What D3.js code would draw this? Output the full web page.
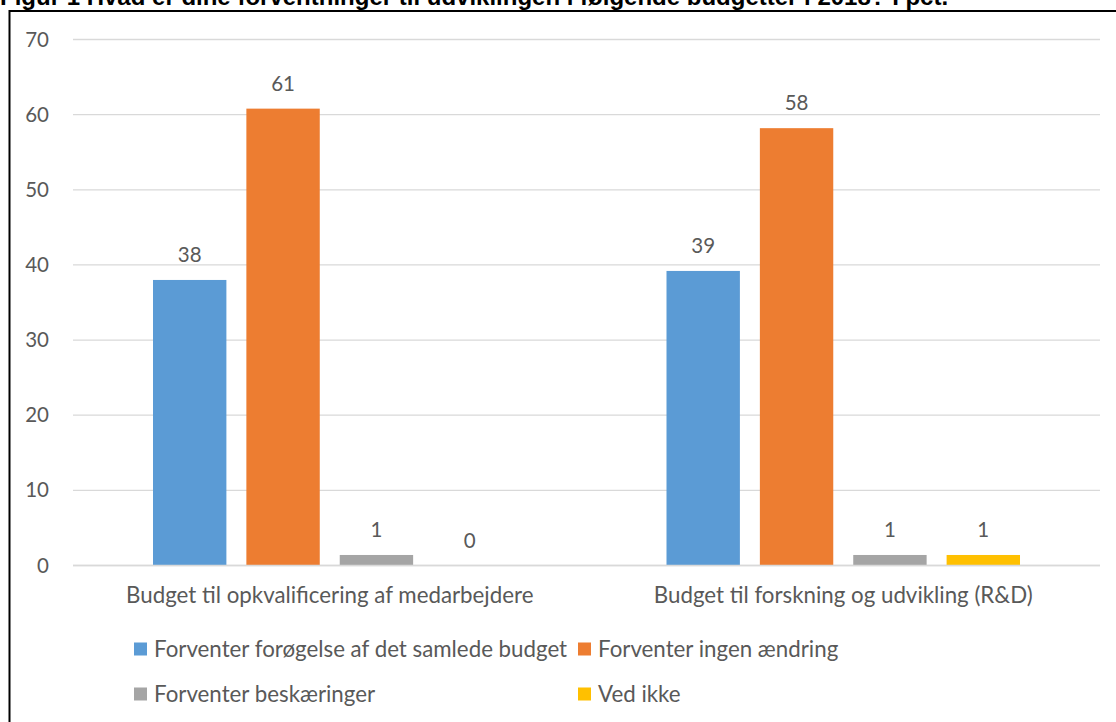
<!DOCTYPE html>
<html>
<head>
<meta charset="utf-8">
<script src="https://cdn.jsdelivr.net/npm/d3@7"></script>
<style>
  body { margin: 0; background: #fff; }
  svg { display: block; }
</style>
</head>
<body>
<div id="chart"></div>
<script>
const categories = ["Budget til opkvalificering af medarbejdere", "Budget til forskning og udvikling (R&D)"];
const seriesNames = ["Forventer forøgelse af det samlede budget", "Forventer ingen ændring", "Forventer beskæringer", "Ved ikke"];
const seriesColors = ["#5B9BD5", "#ED7D31", "#A5A5A5", "#FFC000"];
// bar heights, labels as printed
const increase = [38.0, 39.2];
const noChange = [60.8, 58.2];
const cuts = [1.4, 1.4];
const dontKnow = [0, 1.4];
const labelIncrease = [38, 39];
const labelNoChange = [61, 58];
const labelCuts = [1, 1];
const labelDontKnow = [0, 1];
const yTicks = [0, 10, 20, 30, 40, 50, 60, 70];

const W = 1116, H = 722;
const plotLeft = 73, plotRight = 1100, plotTop = 39.5, plotBottom = 565.5;
const textColor = "#595959";
const font = "Lato, 'Open Sans', sans-serif";
const numSize = 20.5;
const textSize = 22.3;

const values = [increase, noChange, cuts, dontKnow];
const labels = [labelIncrease, labelNoChange, labelCuts, labelDontKnow];
const data = categories.map((c, i) => ({
  cat: c,
  bars: seriesNames.map((s, j) => ({series: s, value: values[j][i], label: labels[j][i], color: seriesColors[j]}))
}));

const svg = d3.select("#chart").append("svg")
  .attr("width", W)
  .attr("height", H);

// outer frame (cut off on the right and bottom)
svg.append("path")
  .attr("d", `M${9.5},${H + 5}V${11}H${W + 5}`)
  .attr("fill", "none")
  .attr("stroke", "#000")
  .attr("stroke-width", 2);

// title, mostly cut off at the top
svg.append("text")
  .attr("x", 0)
  .attr("y", 5)
  .attr("font-family", "'Liberation Sans', Arial, sans-serif")
  .attr("font-weight", "bold")
  .attr("font-size", 24)
  .attr("fill", "#000")
  .text("Figur 1 Hvad er dine forventninger til udviklingen i følgende budgetter i 2018? I pct.");

const y = d3.scaleLinear()
  .domain([0, 70])
  .range([plotBottom, plotTop]);

const x0 = d3.scaleBand()
  .domain(categories)
  .range([plotLeft, plotRight]);

const x1 = d3.scaleBand()
  .domain(seriesNames)
  .range([80, x0.bandwidth() - 80])
  .paddingInner(0.214);

// gridlines
svg.append("g")
  .selectAll("line")
  .data(yTicks)
  .join("line")
    .attr("x1", plotLeft)
    .attr("x2", plotRight)
    .attr("y1", d => y(d))
    .attr("y2", d => y(d))
    .attr("stroke", "#D9D9D9")
    .attr("stroke-width", 1.3);

// y tick labels
svg.append("g")
    .attr("font-family", font)
    .attr("font-size", numSize)
    .attr("fill", textColor)
    .attr("text-anchor", "end")
  .selectAll("text")
  .data(yTicks)
  .join("text")
    .attr("x", 49)
    .attr("y", d => y(d) + 7)
    .text(d => d);

const group = svg.append("g")
  .selectAll("g")
  .data(data)
  .join("g")
    .attr("transform", d => `translate(${x0(d.cat)},0)`);

group.selectAll("rect")
  .data(d => d.bars)
  .join("rect")
    .attr("x", d => x1(d.series))
    .attr("width", x1.bandwidth())
    .attr("y", d => y(d.value))
    .attr("height", d => plotBottom - y(d.value))
    .attr("fill", d => d.color);

group.selectAll("text.val")
  .data(d => d.bars)
  .join("text")
    .attr("class", "val")
    .attr("x", d => x1(d.series) + x1.bandwidth() / 2)
    .attr("y", d => y(d.value) - 18)
    .attr("text-anchor", "middle")
    .attr("font-family", font)
    .attr("font-size", numSize)
    .attr("fill", textColor)
    .text(d => d.label);

// zero line
svg.append("line")
  .attr("x1", plotLeft)
  .attr("x2", plotRight)
  .attr("y1", plotBottom)
  .attr("y2", plotBottom)
  .attr("stroke", "#D9D9D9")
  .attr("stroke-width", 1.3);

// category labels
svg.append("g")
    .attr("font-family", font)
    .attr("font-size", textSize)
    .attr("fill", textColor)
    .attr("text-anchor", "middle")
  .selectAll("text")
  .data(categories)
  .join("text")
    .attr("x", d => x0(d) + x0.bandwidth() / 2)
    .attr("y", 603)
    .text(d => d);

// legend, two rows of two
const legendX = [134, 578];
const legendY = [649, 694];
const legend = svg.append("g")
    .attr("font-family", font)
    .attr("font-size", textSize)
    .attr("fill", textColor)
  .selectAll("g")
  .data(seriesNames)
  .join("g")
    .attr("transform", (d, i) => `translate(${legendX[i % 2]},${legendY[Math.floor(i / 2)]})`);

legend.append("rect")
  .attr("x", 0)
  .attr("y", -6.5)
  .attr("width", 13)
  .attr("height", 13)
  .attr("fill", (d, i) => seriesColors[i]);

legend.append("text")
  .attr("x", 20)
  .attr("y", 7.5)
  .text(d => d);
</script>
</body>
</html>
